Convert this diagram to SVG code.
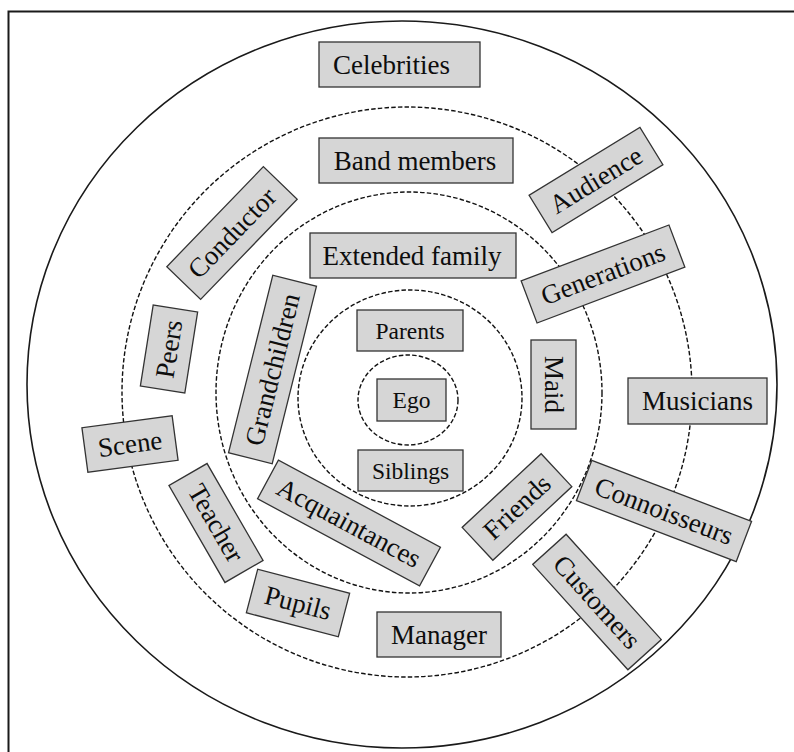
<svg xmlns="http://www.w3.org/2000/svg" width="794" height="752" viewBox="0 0 794 752">
<style>
.frame{fill:none;stroke:#1a1a1a;stroke-width:2}
.solid{fill:none;stroke:#1a1a1a;stroke-width:1.6}
.dash{fill:none;stroke:#111;stroke-width:1.4;stroke-dasharray:4.5 2.2}
.box rect{fill:#d6d6d6;stroke:#333;stroke-width:1.3}
.box text{font-family:"Liberation Serif","Times New Roman",serif;font-size:27px;fill:#0d0d0d;text-anchor:middle}
.sm text{font-size:23.5px}
</style>
<rect width="794" height="752" fill="#ffffff"/>
<path class="frame" d="M8.5,752 V11.5 H794"/>
<g id="rings">
<ellipse class="solid" cx="402" cy="384.5" rx="375" ry="363.5"/>
<ellipse class="dash" cx="407" cy="392" rx="285" ry="285"/>
<ellipse class="dash" cx="409" cy="392.5" rx="193" ry="200.5"/>
<ellipse class="dash" cx="410" cy="398" rx="112" ry="108"/>
<ellipse class="dash" cx="408" cy="400" rx="50" ry="45"/>
</g>
<g id="connectors"></g>
<g id="celebrities" class="box" transform="translate(399.5,64.5)"><rect x="-80.5" y="-22.5" width="161" height="45"/><text x="-8" y="9">Celebrities</text></g>
<g id="band-members" class="box" transform="translate(416,160.5)"><rect x="-97" y="-22.5" width="194" height="45"/><text x="-1" y="9">Band members</text></g>
<g id="extended-family" class="box" transform="translate(413,255.5)"><rect x="-103" y="-22.5" width="206" height="45"/><text x="-1" y="9">Extended family</text></g>
<g id="parents" class="box sm" transform="translate(410,330.5)"><rect x="-53" y="-20.5" width="106" height="41"/><text y="8">Parents</text></g>
<g id="ego" class="box sm" transform="translate(411.5,400)"><rect x="-34.5" y="-21" width="69" height="42"/><text y="8">Ego</text></g>
<g id="siblings" class="box sm" transform="translate(410.5,470.5)"><rect x="-52.5" y="-20.5" width="105" height="41"/><text y="8">Siblings</text></g>
<g id="maid" class="box" transform="translate(553.5,384.5) rotate(90)"><rect x="-44.5" y="-22.5" width="89" height="45"/><text y="9">Maid</text></g>
<g id="musicians" class="box" transform="translate(697.5,401)"><rect x="-69.5" y="-23" width="139" height="46"/><text y="9">Musicians</text></g>
<g id="manager" class="box" transform="translate(439,634.5)"><rect x="-62" y="-22.5" width="124" height="45"/><text y="9">Manager</text></g>
<g id="conductor" class="box" transform="translate(232,233) rotate(-46)"><rect x="-69.5" y="-23.5" width="139" height="47"/><text y="9">Conductor</text></g>
<g id="peers" class="box" transform="translate(169,349) rotate(-81)"><rect x="-41" y="-22.5" width="82" height="45"/><text y="9">Peers</text></g>
<g id="grandchildren" class="box" transform="translate(272.5,369.5) rotate(-76)"><rect x="-91.5" y="-22.5" width="183" height="45"/><text y="9">Grandchildren</text></g>
<g id="scene" class="box" transform="translate(130,444) rotate(-7.6)"><rect x="-45.5" y="-22.5" width="91" height="45"/><text y="9">Scene</text></g>
<g id="teacher" class="box" transform="translate(216,523) rotate(60)"><rect x="-56" y="-22" width="112" height="44"/><text y="9">Teacher</text></g>
<g id="pupils" class="box" transform="translate(298,603) rotate(14.6)"><rect x="-47.5" y="-22.5" width="95" height="45"/><text y="9">Pupils</text></g>
<g id="acquaintances" class="box" transform="translate(349,523) rotate(28.3)"><rect x="-92" y="-22" width="184" height="44"/><text y="9">Acquaintances</text></g>
<g id="friends" class="box" transform="translate(517,507) rotate(-43)"><rect x="-54" y="-22.5" width="108" height="45"/><text y="9">Friends</text></g>
<g id="connoisseurs" class="box" transform="translate(664,511) rotate(20.9)"><rect x="-85.5" y="-21.5" width="171" height="43"/><text y="9">Connoisseurs</text></g>
<g id="customers" class="box" transform="translate(597,602) rotate(47.9)"><rect x="-71" y="-22.5" width="142" height="45"/><text y="9">Customers</text></g>
<g id="audience" class="box" transform="translate(596,180) rotate(-31.5)"><rect x="-65" y="-22" width="130" height="44"/><text y="9">Audience</text></g>
<g id="generations" class="box" transform="translate(603,274) rotate(-20.7)"><rect x="-79" y="-22.5" width="158" height="45"/><text y="9">Generations</text></g>
</svg>
